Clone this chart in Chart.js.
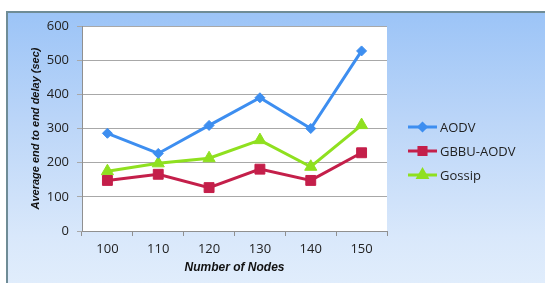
<!DOCTYPE html>
<html>
<head>
<meta charset="utf-8">
<script src="https://cdn.jsdelivr.net/npm/chart.js@4/dist/chart.umd.min.js"></script>
<style>
  html, body { margin: 0; padding: 0; background: #ffffff; }
  #wrap { position: relative; width: 545px; height: 283px; overflow: hidden; }
  #frame { position: absolute; left: 6px; top: 11px; width: 545px; height: 280px;
    border-left: 2px solid #6f8c96; border-top: 2px solid #6f8c96;
    background: linear-gradient(to bottom, #9cc4f7 0%, #bcd6f8 40%, #d9e8fb 80%, #e2eefc 100%); }
  canvas { position: absolute; left: 0; top: 0; }
</style>
</head>
<body>
<div id="wrap">
  <div id="frame"></div>
  <canvas id="c" width="545" height="283"></canvas>
</div>
<script>
const categories = ['100', '110', '120', '130', '140', '150'];
const aodv = [286, 227, 309, 390, 300, 527];
const gbbuAodv = [148, 166, 127, 181, 148, 229];
const gossip = [175, 198, 213, 266, 188, 310];
const yTicks = [0, 100, 200, 300, 400, 500, 600];

const seriesNames = ['AODV', 'GBBU-AODV', 'Gossip'];
const seriesColors = ['#3d8ef0', '#c41f4a', '#8fe01f'];
const seriesMarkers = ['rectRot', 'rect', 'triangle'];
const markerRadius = [5, 7, 7];

const plotBg = {
  id: 'plotBg',
  beforeDraw(chart) {
    const {ctx, chartArea: a} = chart;
    ctx.save();
    ctx.fillStyle = '#ffffff';
    ctx.fillRect(a.left, a.top, a.right - a.left, a.bottom - a.top);
    ctx.restore();
  }
};

const customLegend = {
  id: 'customLegend',
  afterDraw(chart) {
    const ctx = chart.ctx;
    const x0 = 408, x1 = 437, tx = 440;
    const ys = [127, 151, 175];
    chart.data.datasets.forEach((ds, i) => {
      const y = ys[i];
      ctx.save();
      ctx.strokeStyle = ds.borderColor;
      ctx.lineWidth = 3;
      ctx.beginPath(); ctx.moveTo(x0, y); ctx.lineTo(x1, y); ctx.stroke();
      ctx.fillStyle = ds.borderColor;
      ctx.strokeStyle = ds.borderColor;
      Chart.helpers.drawPoint(ctx, {pointStyle: ds.pointStyle, radius: i === 0 ? 3.5 : 5, borderWidth: 1}, (x0 + x1) / 2, y);
      ctx.fillStyle = '#222222';
      ctx.font = '13px "Open Sans", "Liberation Sans", sans-serif';
      ctx.textBaseline = 'middle';
      ctx.textAlign = 'left';
      ctx.fillText(ds.label, tx, y + 1);
      ctx.restore();
    });
  }
};

const seriesData = [aodv, gbbuAodv, gossip];

new Chart(document.getElementById('c'), {
  type: 'line',
  data: {
    labels: categories,
    datasets: seriesData.map((d, i) => ({
      label: seriesNames[i],
      data: d,
      borderColor: seriesColors[i],
      backgroundColor: seriesColors[i],
      pointBackgroundColor: seriesColors[i],
      pointBorderColor: seriesColors[i],
      borderWidth: 3,
      pointStyle: seriesMarkers[i],
      pointRadius: markerRadius[i],
      pointBorderWidth: 1,
      tension: 0,
      fill: false,
    }))
  },
  options: {
    responsive: false,
    animation: false,
    devicePixelRatio: 1,
    layout: { padding: { left: 0, top: 26, right: 158, bottom: 0 } },
    plugins: {
      legend: { display: false },
      tooltip: { enabled: false },
    },
    scales: {
      x: {
        offset: true,
        grid: { display: true, drawOnChartArea: false, drawTicks: true, tickLength: 5, color: '#909090', offset: true },
        border: { display: true, color: '#909090', width: 1 },
        ticks: { color: '#222222', font: { size: 13, family: '"Open Sans", "Liberation Sans", sans-serif' }, padding: 5, maxRotation: 0 },
        title: { display: true, text: 'Number of Nodes', color: '#111111',
          font: { size: 12, weight: 'bold', style: 'italic', family: '"Liberation Sans", Arial, sans-serif' },
          padding: { top: 0, bottom: 8 } },
        afterFit(scale) { scale.height = 52; }
      },
      y: {
        min: 0, max: 600,
        afterBuildTicks(scale) { scale.ticks = yTicks.map(v => ({ value: v })); },
        grid: { display: true, drawOnChartArea: true, drawTicks: true, tickLength: 5, color: '#a8a8a8' },
        border: { display: true, color: '#909090', width: 1 },
        ticks: { color: '#222222', font: { size: 13, family: '"Open Sans", "Liberation Sans", sans-serif' }, padding: 8 },
        title: { display: true, text: 'Average end to end delay (sec)', color: '#111111',
          font: { size: 11, weight: 'bold', style: 'italic', family: '"Liberation Sans", Arial, sans-serif' },
          padding: { top: 29, bottom: 0 } },
        afterFit(scale) { scale.width = 82; }
      }
    }
  },
  plugins: [plotBg, customLegend]
});
</script>
</body>
</html>
